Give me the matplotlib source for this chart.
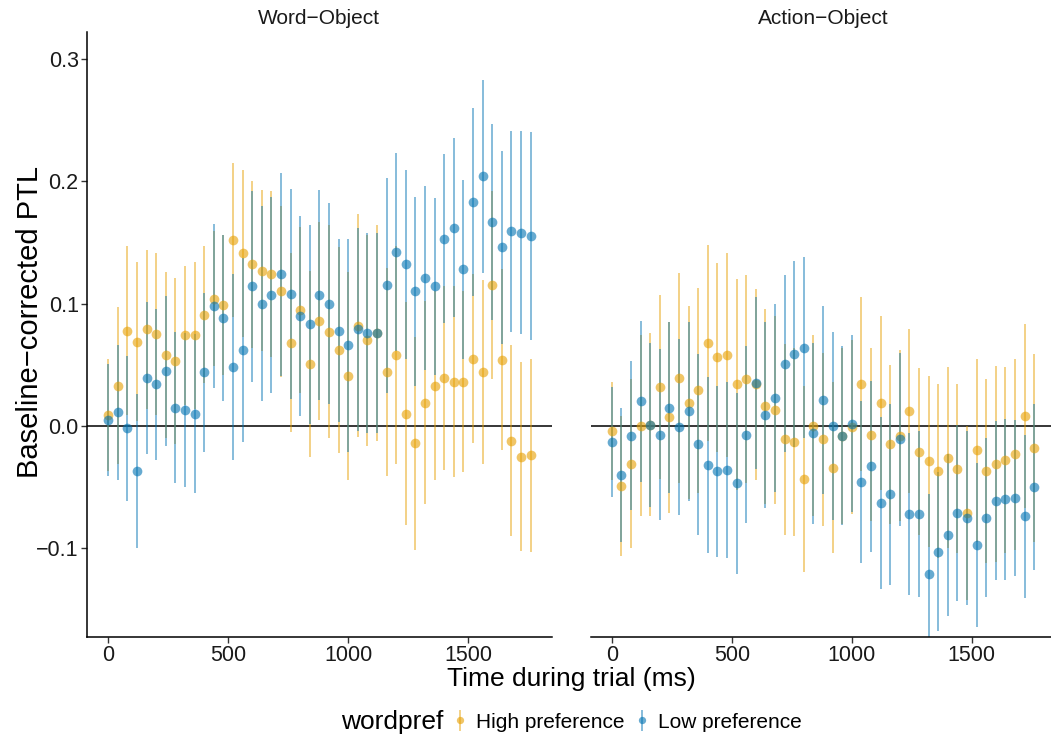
import matplotlib
matplotlib.use("Agg")
import matplotlib.pyplot as plt
from matplotlib.ticker import FuncFormatter

plt.rcParams['font.family'] = ['Liberation Sans', 'DejaVu Sans']

# time bins (ms)
times = list(range(0, 1761, 40))

# Word-Object panel
wo_high_mean = [0.009, 0.033, 0.078, 0.069, 0.079, 0.075, 0.058, 0.053, 0.074, 0.074,
                0.091, 0.104, 0.099, 0.152, 0.141, 0.132, 0.127, 0.124, 0.110, 0.068,
                0.095, 0.051, 0.086, 0.077, 0.062, 0.041, 0.082, 0.070, 0.076, 0.044,
                0.058, 0.010, -0.014, 0.019, 0.033, 0.039, 0.036, 0.036, 0.055, 0.044,
                0.115, 0.054, -0.012, -0.025, -0.024]
wo_high_se = [0.046, 0.064, 0.069, 0.065, 0.065, 0.066, 0.068, 0.068, 0.057, 0.060,
              0.056, 0.055, 0.057, 0.063, 0.068, 0.068, 0.066, 0.068, 0.070, 0.073,
              0.068, 0.076, 0.081, 0.087, 0.084, 0.085, 0.091, 0.086, 0.088, 0.085,
              0.089, 0.091, 0.087, 0.083, 0.077, 0.075, 0.078, 0.074, 0.069, 0.075,
              0.077, 0.074, 0.078, 0.077, 0.079]
wo_low_mean = [0.005, 0.011, -0.002, -0.037, 0.039, 0.034, 0.045, 0.015, 0.013, 0.010,
               0.044, 0.098, 0.088, 0.048, 0.062, 0.114, 0.100, 0.107, 0.124, 0.108,
               0.090, 0.083, 0.107, 0.100, 0.078, 0.066, 0.079, 0.076, 0.076, 0.115,
               0.142, 0.132, 0.110, 0.121, 0.114, 0.153, 0.162, 0.128, 0.183, 0.204,
               0.167, 0.146, 0.159, 0.158, 0.155]
wo_low_se = [0.046, 0.055, 0.059, 0.063, 0.062, 0.062, 0.061, 0.062, 0.063, 0.065,
             0.065, 0.067, 0.068, 0.076, 0.075, 0.078, 0.080, 0.080, 0.083, 0.086,
             0.082, 0.081, 0.086, 0.082, 0.075, 0.087, 0.083, 0.082, 0.082, 0.088,
             0.081, 0.077, 0.077, 0.075, 0.072, 0.069, 0.073, 0.073, 0.077, 0.079,
             0.080, 0.079, 0.082, 0.083, 0.085]

# Action-Object panel
ao_high_mean = [-0.004, -0.049, -0.031, 0.000, 0.001, 0.032, 0.007, 0.039, 0.019, 0.029,
                0.068, 0.056, 0.058, 0.034, 0.038, 0.034, 0.016, 0.013, -0.011, -0.013,
                -0.043, 0.000, -0.011, -0.034, -0.008, -0.001, 0.034, -0.007, 0.019, -0.015,
                -0.008, 0.012, -0.021, -0.029, -0.037, -0.026, -0.035, -0.071, -0.020, -0.037,
                -0.031, -0.028, -0.023, 0.008, -0.018]
ao_high_se = [0.040, 0.057, 0.069, 0.074, 0.075, 0.075, 0.078, 0.086, 0.079, 0.084,
              0.080, 0.077, 0.083, 0.086, 0.085, 0.078, 0.080, 0.077, 0.078, 0.077,
              0.076, 0.074, 0.071, 0.070, 0.072, 0.071, 0.071, 0.071, 0.071, 0.065,
              0.070, 0.067, 0.068, 0.070, 0.071, 0.074, 0.069, 0.071, 0.075, 0.075,
              0.080, 0.076, 0.078, 0.075, 0.077]
ao_low_mean = [-0.013, -0.040, -0.008, 0.020, 0.001, -0.007, 0.015, -0.001, 0.012, -0.015,
               -0.032, -0.037, -0.036, -0.047, -0.007, 0.035, 0.009, 0.023, 0.051, 0.059,
               0.064, -0.006, 0.021, 0.000, -0.008, 0.002, -0.046, -0.033, -0.063, -0.056,
               -0.011, -0.072, -0.072, -0.121, -0.103, -0.089, -0.071, -0.075, -0.097, -0.075,
               -0.061, -0.060, -0.059, -0.074, -0.050]
ao_low_se = [0.045, 0.055, 0.061, 0.066, 0.067, 0.070, 0.070, 0.072, 0.073, 0.074,
             0.072, 0.070, 0.072, 0.074, 0.072, 0.070, 0.076, 0.077, 0.072, 0.076,
             0.074, 0.074, 0.077, 0.077, 0.073, 0.072, 0.066, 0.070, 0.070, 0.074,
             0.071, 0.066, 0.068, 0.065, 0.065, 0.066, 0.072, 0.071, 0.067, 0.065,
             0.065, 0.066, 0.064, 0.067, 0.068]

panel_titles = ["Word\u2212Object", "Action\u2212Object"]
group_labels = ["High preference", "Low preference"]
colors = ["#E69F00", "#0072B2"]

W, H = 1051, 742
fig = plt.figure(figsize=(W / 100, H / 100), dpi=100)
ax1 = fig.add_axes([87 / W, 105 / H, 464.7 / W, 605 / H])
ax2 = fig.add_axes([590.7 / W, 105 / H, 464.7 / W, 605 / H])

panels = [
    (ax1, [(wo_high_mean, wo_high_se), (wo_low_mean, wo_low_se)]),
    (ax2, [(ao_high_mean, ao_high_se), (ao_low_mean, ao_low_se)]),
]

def fmt_y(v, pos):
    return f"{v:.1f}".replace("-", "\u2212")

handles = []
for i, (ax, series) in enumerate(panels):
    ax.axhline(0, color="black", lw=1.1, zorder=1)
    for (m, se), c in zip(series, colors):
        h = ax.errorbar(times, m, yerr=se, fmt="o", color=c, ecolor=c, alpha=0.6,
                        markersize=7, markeredgewidth=0, elinewidth=1.1, capsize=0,
                        zorder=2)
        if i == 0:
            handles.append(h)
    ax.set_xlim(-88, 1848)
    ax.set_ylim(-0.1725, 0.322)
    ax.set_xticks([0, 500, 1000, 1500])
    ax.set_yticks([-0.1, 0.0, 0.1, 0.2, 0.3])
    ax.yaxis.set_major_formatter(FuncFormatter(fmt_y))
    for s in ["top", "right"]:
        ax.spines[s].set_visible(False)
    ax.spines["bottom"].set_linewidth(1.1)
    ax.spines["left"].set_linewidth(1.1)
    ax.tick_params(labelsize=15.5, length=4, width=1, colors="#333333",
                   labelcolor="#1a1a1a", pad=2)
    ax.set_title(panel_titles[i], fontsize=15, pad=6, color="#1a1a1a")

ax2.spines["left"].set_visible(False)
ax2.tick_params(axis="y", left=False, labelleft=False)

fig.text(571 / W, 1 - 679 / H, "Time during trial (ms)", ha="center", va="center",
         fontsize=19)
fig.text(30 / W, 1 - 322 / H, "Baseline\u2212corrected PTL", ha="center", va="center",
         rotation=90, fontsize=21)

fig.text(443 / W, 1 - 722 / H, "wordpref", ha="right", va="center", fontsize=19)
fig.legend(handles, group_labels, loc="center left", bbox_to_anchor=(451 / W, 1 - 722 / H),
           ncol=2, frameon=False, fontsize=15, handlelength=0.9, handletextpad=0.3,
           columnspacing=0.4, markerscale=0.75, borderaxespad=0, borderpad=0)

fig.savefig("out.png", dpi=100)
